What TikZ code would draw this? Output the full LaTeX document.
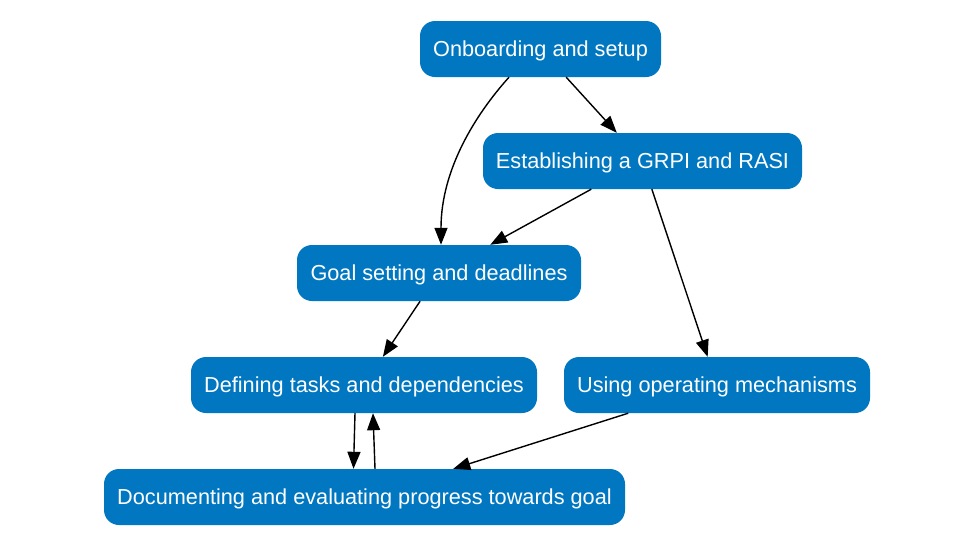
\documentclass[tikz,border=0pt]{standalone}
\usepackage{fontspec}
\setmainfont{Liberation Sans}
\usetikzlibrary{arrows.meta,calc}
\definecolor{boxblue}{RGB}{0,119,192}
\begin{document}
\begin{tikzpicture}[x=1pt,y=-1pt,
  box/.style={draw=none,fill=boxblue,text=white,rounded corners=15pt,inner sep=0pt,minimum height=56pt,text height=15.6pt,text depth=0pt,font=\fontsize{21.7}{26}\selectfont},
  link/.style={draw=black,line width=1.4pt,-{Triangle[length=17pt,width=13pt]}}]
\useasboundingbox (0,0) rectangle (972,544);
\fill[white] (0,0) rectangle (972,544);
\node[box,minimum width=241pt] (on) at (540.5,49) {Onboarding and setup};
\node[box,minimum width=319pt] (gr) at (642.5,161) {Establishing a GRPI and RASI};
\node[box,minimum width=284pt] (go) at (439,273) {Goal setting and deadlines};
\node[box,minimum width=346pt] (de) at (364,385) {Defining tasks and dependencies};
\node[box,minimum width=306pt] (us) at (717,385) {Using operating mechanisms};
\node[box,minimum width=521pt] (doc) at (364.5,497) {Documenting and evaluating progress towards goal};
\draw[link] ([xshift=-31.5pt]on.south) .. controls (475,115) and (441,170) .. ([xshift=2pt]go.north);
\draw[link] (on) -- (gr);
\draw[link] (gr) -- (go);
\draw[link] (gr) -- (us);
\draw[link] (go) -- (de);
\draw[link] (us) -- (doc);
\draw[link] ([xshift=-9pt]de.south) -- ([xshift=-11pt]doc.north);
\draw[link] ([xshift=10.5pt]doc.north) -- ([xshift=9pt]de.south);
\end{tikzpicture}
\end{document}
